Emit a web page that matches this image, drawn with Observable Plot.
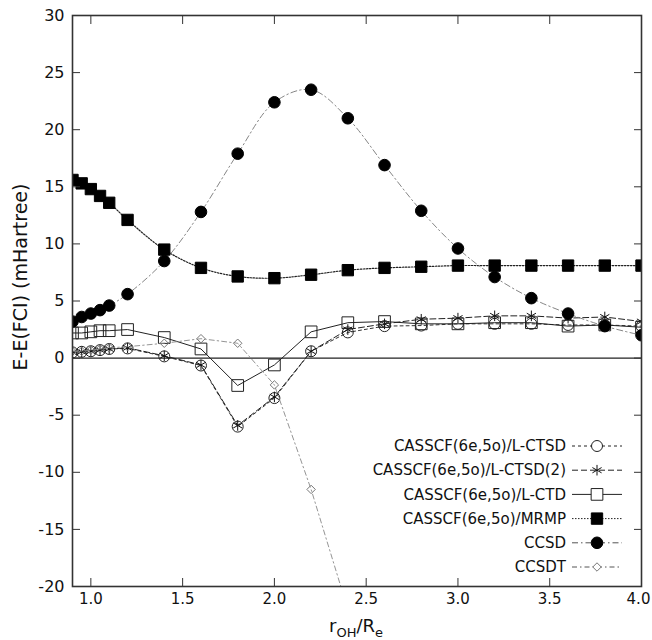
<!DOCTYPE html>
<html><head><meta charset="utf-8">
<script src="https://cdn.jsdelivr.net/npm/d3@7"></script>
<script src="https://cdn.jsdelivr.net/npm/@observablehq/plot@0.6"></script>
<style>body{margin:0;background:#fff;} #chart{width:652px;height:640px;}</style>
</head><body><div id="chart"></div>
<script>
// ---- data ----
const rOH = [0.9, 0.95, 1.0, 1.05, 1.1, 1.2, 1.4, 1.6, 1.8, 2.0, 2.2, 2.4, 2.6, 2.8, 3.0, 3.2, 3.4, 3.6, 3.8, 4.0];
const ctsd   = [0.5, 0.55, 0.6, 0.7, 0.8, 0.85, 0.15, -0.65, -6.0, -3.5, 0.6, 2.25, 2.8, 2.85, 3.0, 3.0, 3.0, 2.9, 2.9, 2.8];
const ctsd2  = [0.5, 0.55, 0.6, 0.7, 0.8, 0.9, 0.2, -0.6, -5.9, -3.4, 0.6, 2.5, 3.0, 3.4, 3.5, 3.7, 3.7, 3.5, 3.6, 3.2];
const ctd    = [2.2, 2.2, 2.3, 2.4, 2.4, 2.5, 1.8, 0.8, -2.4, -0.6, 2.3, 3.1, 3.2, 3.0, 3.0, 3.1, 3.1, 2.8, 2.9, 2.7];
const mrmp   = [15.6, 15.3, 14.8, 14.2, 13.6, 12.1, 9.5, 7.9, 7.15, 7.0, 7.3, 7.7, 7.9, 8.0, 8.1, 8.1, 8.1, 8.1, 8.1, 8.1];
const ccsd   = [3.2, 3.6, 3.9, 4.2, 4.6, 5.6, 8.5, 12.8, 17.9, 22.4, 23.5, 21.0, 16.9, 12.9, 9.6, 7.1, 5.25, 3.9, 2.8, 2.0];
const ccsdt  = [0.6, 0.6, 0.7, 0.8, 0.9, 1.0, 1.3, 1.7, 1.3, -2.35, -11.5, -22];
const seriesNames = ["CASSCF(6e,5o)/L-CTSD", "CASSCF(6e,5o)/L-CTSD(2)", "CASSCF(6e,5o)/L-CTD", "CASSCF(6e,5o)/MRMP", "CCSD", "CCSDT"];
const seriesValues = [ctsd, ctsd2, ctd, mrmp, ccsd, ccsdt];
const xTicks = [1.0, 1.5, 2.0, 2.5, 3.0, 3.5, 4.0];
const yTicks = [-20, -15, -10, -5, 0, 5, 10, 15, 20, 25, 30];
const xLabelParts = [["r", false], ["OH", true], ["/R", false], ["e", true]];
const yLabel = "E-E(FCI) (mHartree)";

// ---- styles ----
const styles = [
  {dash: "3,3", lineStroke: "#333", lw: 1, symbol: "circle", r: 5.5, fill: "none", stroke: "#222", curve: "linear"},
  {dash: "6,3", lineStroke: "#222", lw: 1, symbol: "asterisk", r: 5, fill: "none", stroke: "#111", curve: "linear"},
  {dash: null, lineStroke: "#222", lw: 1, symbol: "square", r: 6.6, fill: "none", stroke: "#222", curve: "linear"},
  {dash: "1.5,1.5", lineStroke: "#222", lw: 1.2, symbol: "square", r: 6.4, fill: "#000", stroke: "#000", curve: "catmull-rom"},
  {dash: "6,3,1.5,3", lineStroke: "#777", lw: 0.9, symbol: "circle", r: 5.8, fill: "#000", stroke: "#000", curve: "catmull-rom"},
  {dash: "5,3,1.5,3", lineStroke: "#888", lw: 0.9, symbol: "diamond2", r: 3.8, fill: "none", stroke: "#777", curve: "linear"}
];

const seriesRows = seriesValues.map((vals, k) => vals.map((v, i) => ({series: seriesNames[k], r: rOH[i], e: v})));

const marks = [Plot.ruleY([0], {stroke: "#222", strokeWidth: 1.2})];
seriesRows.forEach((rows, k) => {
  const s = styles[k];
  marks.push(Plot.line(rows, {x: "r", y: "e", stroke: s.lineStroke, strokeWidth: s.lw, strokeDasharray: s.dash, curve: s.curve, clip: true}));
  marks.push(Plot.dot(rows, {x: "r", y: "e", symbol: s.symbol, r: s.r, fill: s.fill, stroke: s.stroke, strokeWidth: 1, clip: true}));
});
const lastTick = xTicks[xTicks.length - 1];
marks.push(
  Plot.axisX({anchor: "bottom", ticks: xTicks, tickSize: -8, tickPadding: 15, tickFormat: d => d === lastTick ? "" : d3.format(".1f")(d), label: null, stroke: "#333", fontSize: 15}),
  Plot.axisX({anchor: "bottom", ticks: [lastTick], tickSize: 0, tickPadding: 7, tickFormat: d3.format(".1f"), label: null, fontSize: 15, dx: -3}),
  Plot.axisX({anchor: "top", ticks: xTicks, tickSize: -8, tickFormat: () => "", label: null, stroke: "#333"}),
  Plot.axisY({anchor: "left", ticks: yTicks, tickSize: -8, tickPadding: 16, tickFormat: d => String(d), label: null, stroke: "#333", fontSize: 16}),
  Plot.axisY({anchor: "right", ticks: yTicks, tickSize: -8, tickFormat: () => "", label: null, stroke: "#333"}),
  Plot.frame({stroke: "#333", strokeWidth: 1.6})
);

const plot = Plot.plot({
  width: 652, height: 640,
  marginLeft: 72, marginRight: 11, marginTop: 15, marginBottom: 54,
  style: {fontFamily: "'DejaVu Sans', sans-serif", fontSize: "16px", color: "#111", background: "#fff"},
  x: {domain: [0.9, 4.0]},
  y: {domain: [-20, 30]},
  marks
});
document.getElementById("chart").appendChild(plot);

// ---- axis titles & legend ----
const svg = d3.select(plot);
const xl = svg.append("text").attr("x", 356).attr("y", 632).attr("text-anchor", "middle")
  .attr("font-family", "'DejaVu Sans', sans-serif").attr("font-size", 18).attr("fill", "#111");
let sub = false;
xLabelParts.forEach(([t, isSub]) => {
  const ts = xl.append("tspan").text(t).attr("font-size", isSub ? 13 : 18);
  if (isSub !== sub) ts.attr("dy", isSub ? 5 : -5);
  sub = isSub;
});
svg.append("text").attr("transform", "translate(27,277) rotate(-90)").attr("text-anchor", "middle")
  .attr("font-family", "'DejaVu Sans', sans-serif").attr("font-size", 19).attr("fill", "#111").text(yLabel);

const symMap = {circle: d3.symbolCircle, square: d3.symbolSquare, asterisk: d3.symbolAsterisk, diamond2: d3.symbolDiamond2};
const lg = svg.append("g").attr("font-family", "'DejaVu Sans', sans-serif").attr("font-size", 15);
seriesNames.forEach((name, k) => {
  const s = styles[k];
  const y = 446 + k * 24.2;
  lg.append("text").attr("x", 566).attr("y", y).attr("dy", "0.35em").attr("text-anchor", "end").attr("fill", "#111").text(name);
  lg.append("line").attr("x1", 572).attr("x2", 622).attr("y1", y).attr("y2", y)
    .attr("stroke", k >= 4 ? "#555" : "#222").attr("stroke-width", 1).attr("stroke-dasharray", s.dash);
  lg.append("path").attr("transform", `translate(597,${y})`)
    .attr("d", d3.symbol(symMap[s.symbol], Math.PI * s.r * s.r)())
    .attr("fill", s.fill === "none" ? "#fff" : s.fill).attr("stroke", s.stroke).attr("stroke-width", 1);
});
</script>
</body></html>
